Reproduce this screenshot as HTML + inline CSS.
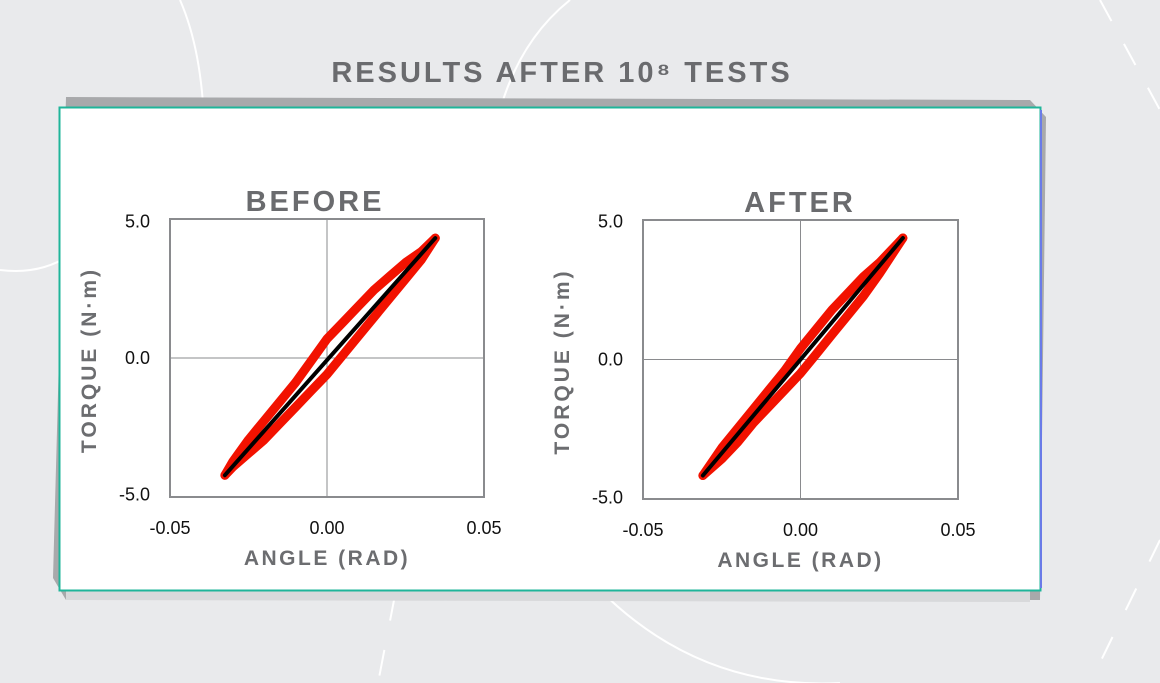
<!DOCTYPE html>
<html><head><meta charset="utf-8"><style>
html,body{margin:0;padding:0;}
body{width:1160px;height:683px;overflow:hidden;background:#e9eaec;font-family:"Liberation Sans",sans-serif;position:relative;}
svg{position:absolute;left:0;top:0;}
</style></head><body>
<svg id="s" width="1160" height="683" viewBox="0 0 1160 683" xmlns="http://www.w3.org/2000/svg">
  <g fill="none" stroke="#ffffff" stroke-width="2">
    <path d="M180 0 Q215 80 200 230"/>
    <path d="M0 270 Q40 275 70 255"/>
    <path d="M570 0 Q520 40 500 110"/>
    <path d="M600 590 Q700 690 840 683"/>
    <path d="M1100 0 L1160 110" stroke-dasharray="24 26"/>
    <path d="M1160 540 L1090 683" stroke-dasharray="24 30"/>
    <path d="M395 595 L378 683" stroke-dasharray="26 30"/>
  </g>
  <polygon points="66,97 1030,100 1046,117 1040,600 66,600 53,578" fill="#a8a9ab"/>
  <polygon points="66,590 1030,590 1030,602 66,600" fill="#d8d9db"/>
  <rect x="59.5" y="107.5" width="981" height="483" fill="#fff" stroke="#1fb59a" stroke-width="2"/>
  <line x1="1041" y1="110" x2="1041" y2="588" stroke="#6a7be8" stroke-width="2"/>
  <text x="562" y="82" text-anchor="middle" font-size="29" font-weight="bold" fill="#6a6b6e" letter-spacing="3">RESULTS AFTER 10⁸ TESTS</text>
  <g id="p1"></g>
  <g id="p2"></g>
</svg>
<script>
// BEFORE data
const beforeUpperX = [-0.0325,-0.03,-0.025,-0.02,-0.015,-0.01,-0.005,0.0,0.005,0.01,0.015,0.02,0.025,0.03,0.0345];
const beforeUpperY = [-4.3,-3.8,-3.0,-2.3,-1.6,-0.9,-0.1,0.7,1.3,1.9,2.5,3.0,3.5,3.9,4.4];
const beforeLowerX = [-0.0325,-0.03,-0.025,-0.02,-0.015,-0.01,-0.005,0.0,0.005,0.01,0.015,0.02,0.025,0.03,0.0345];
const beforeLowerY = [-4.3,-4.0,-3.5,-3.0,-2.4,-1.8,-1.2,-0.6,0.1,0.8,1.5,2.2,2.9,3.6,4.4];
const beforeFitX = [-0.0325,0.0345];
const beforeFitY = [-4.3,4.4];
// AFTER data
const afterUpperX = [-0.031,-0.025,-0.02,-0.015,-0.01,-0.005,0.0,0.005,0.01,0.015,0.02,0.025,0.0325];
const afterUpperY = [-4.2,-3.2,-2.5,-1.8,-1.1,-0.4,0.4,1.1,1.8,2.4,3.0,3.5,4.4];
const afterLowerX = [-0.031,-0.025,-0.02,-0.015,-0.01,-0.005,0.0,0.005,0.01,0.015,0.02,0.025,0.0325];
const afterLowerY = [-4.2,-3.6,-3.0,-2.3,-1.7,-1.1,-0.5,0.2,0.9,1.6,2.3,3.1,4.4];
const afterFitX = [-0.031,0.0325];
const afterFitY = [-4.2,4.4];
// ticks
const xTicks = [-0.05,0.00,0.05];
const xTickLabels = ["-0.05","0.00","0.05"];
const yTicks = [5,0,-5];
const yTickLabels = ["5.0","0.0","-5.0"];

const NS="http://www.w3.org/2000/svg";
function mk(parent,tag,attrs){const e=document.createElementNS(NS,tag);for(const k in attrs)e.setAttribute(k,attrs[k]);parent.appendChild(e);return e;}

function drawChart(g,box,title,up,lo,fit,titleX){
  const sx=v=>box.x0+(v-(-0.05))/0.1*(box.x1-box.x0);
  const sy=v=>box.y1-(v-box.ymin)/(box.ymax-box.ymin)*(box.y1-box.y0);
  const frame=mk(g,'rect',{x:box.x0,y:box.y0,width:box.x1-box.x0,height:box.y1-box.y0,fill:'none',stroke:'#8a8b8e','stroke-width':2});
  
  
  const vx=mk(g,'line',{x1:sx(0),x2:sx(0),y1:box.y0,y2:box.y1,stroke:'#8a8b8e','stroke-width':1});
  
  
  const hy=mk(g,'line',{x1:box.x0,x2:box.x1,y1:sy(0),y2:sy(0),stroke:'#8a8b8e','stroke-width':1});
  
  
  xTicks.forEach((t,i)=>{
    const e=mk(g,'text',{x:sx(t),y:box.y1+37,'text-anchor':'middle','font-size':18,fill:'#111'});
    e.textContent=xTickLabels[i];
    
    
  });
  yTicks.forEach((t,i)=>{
    const e=mk(g,'text',{x:box.x0-20,y:sy(t)+6,'text-anchor':'end','font-size':18,fill:'#111'});
    e.textContent=yTickLabels[i];
    
    
  });
  const tt=mk(g,'text',{x:titleX,y:box.y0-8,'text-anchor':'middle','font-size':29,'font-weight':'bold',fill:'#6a6b6e','letter-spacing':3});
  tt.textContent=title;
  
  
  const xt=mk(g,'text',{x:(box.x0+box.x1)/2,y:box.y1+68,'text-anchor':'middle','font-size':21,'font-weight':'bold',fill:'#6c6d70','letter-spacing':2.5});
  xt.textContent='ANGLE (RAD)';
  
  
  const cy=(box.y0+box.y1)/2+2, cx=box.x0-74;
  const yt=mk(g,'text',{x:cx,y:cy,'text-anchor':'middle','font-size':21,'font-weight':'bold',fill:'#6c6d70','letter-spacing':3,transform:`rotate(-90 ${cx} ${cy})`});
  yt.textContent='TORQUE (N·m)';
  
  
  const pts=(X,Y)=>X.map((v,i)=>sx(v).toFixed(1)+','+sy(Y[i]).toFixed(1)).join(' ');
  const a=mk(g,'polyline',{points:pts(up[0],up[1]),fill:'none',stroke:'#f21200','stroke-width':9,'stroke-linecap':'round','stroke-linejoin':'round'});
  
  
  const b=mk(g,'polyline',{points:pts(lo[0],lo[1]),fill:'none',stroke:'#f21200','stroke-width':9,'stroke-linecap':'round','stroke-linejoin':'round'});
  
  
  const f=mk(g,'polyline',{points:pts(fit[0],fit[1]),fill:'none',stroke:'#000','stroke-width':4,'stroke-linecap':'round'});
  
  
}
drawChart(document.getElementById('p1'),{x0:170,x1:484,y0:219,y1:497,ymin:-5.1,ymax:5.1},'BEFORE',[beforeUpperX,beforeUpperY],[beforeLowerX,beforeLowerY],[beforeFitX,beforeFitY],315);
drawChart(document.getElementById('p2'),{x0:643,x1:958,y0:220,y1:499,ymin:-5.05,ymax:5.05},'AFTER',[afterUpperX,afterUpperY],[afterLowerX,afterLowerY],[afterFitX,afterFitY],800);
</script>
</body></html>
